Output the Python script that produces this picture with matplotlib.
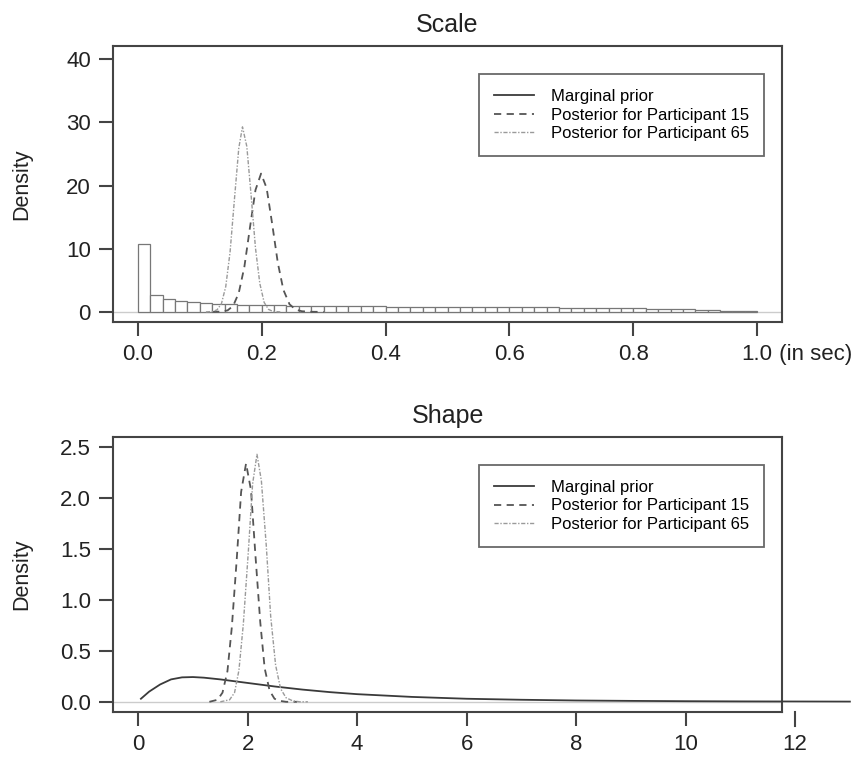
import matplotlib
matplotlib.use('Agg')
import matplotlib.pyplot as plt

plt.rcParams['font.family'] = ['Liberation Sans', 'DejaVu Sans']

# ---- Scale panel data ----
bin_edges = [i * 0.02 for i in range(51)]
prior_scale = [10.8, 2.7, 2.05, 1.75, 1.55, 1.4, 1.3, 1.2, 1.15, 1.1,
               1.05, 1.02, 1.0, 0.98, 0.95, 0.93, 0.92, 0.9, 0.88, 0.87,
               0.85, 0.84, 0.83, 0.82, 0.8, 0.79, 0.78, 0.77, 0.76, 0.75,
               0.74, 0.72, 0.71, 0.7, 0.68, 0.66, 0.64, 0.62, 0.6, 0.57,
               0.54, 0.5, 0.46, 0.42, 0.38, 0.33, 0.27, 0.21, 0.15, 0.08]

p15_scale_x = [0.12, 0.135, 0.145, 0.154, 0.163, 0.172, 0.181, 0.19, 0.199,
               0.208, 0.217, 0.226, 0.235, 0.245, 0.255, 0.265, 0.28, 0.30]
p15_scale_y = [0.0, 0.05, 0.24, 0.96, 3.0, 7.1, 13.3, 19.3, 21.9,
               19.6, 13.9, 7.8, 3.5, 1.2, 0.35, 0.1, 0.02, 0.0]

p65_scale_x = [0.11, 0.121, 0.128, 0.135, 0.142, 0.149, 0.156, 0.163, 0.169,
               0.176, 0.183, 0.190, 0.197, 0.204, 0.211, 0.218, 0.23]
p65_scale_y = [0.0, 0.06, 0.33, 1.29, 4.0, 9.5, 17.8, 25.9, 29.3,
               26.2, 18.4, 10.1, 4.5, 1.5, 0.4, 0.08, 0.0]

# ---- Shape panel data ----
prior_shape_x = [0.05, 0.2, 0.4, 0.6, 0.8, 1.0, 1.2, 1.5, 2.0, 2.5, 3.0, 3.5,
                 4.0, 5.0, 6.0, 7.0, 8.0, 9.0, 10.0, 11.0, 12.0, 13.0]
prior_shape_y = [0.03, 0.1, 0.17, 0.22, 0.24, 0.243, 0.237, 0.22, 0.185, 0.15,
                 0.12, 0.095, 0.075, 0.048, 0.03, 0.02, 0.013, 0.009, 0.006,
                 0.004, 0.003, 0.002]

p15_shape_x = [1.3, 1.45, 1.54, 1.63, 1.71, 1.80, 1.88, 1.97, 2.06, 2.14,
               2.23, 2.31, 2.40, 2.49, 2.58, 2.7, 2.9]
p15_shape_y = [0.0, 0.02, 0.09, 0.3, 0.73, 1.4, 2.06, 2.34, 2.08, 1.45,
               0.78, 0.33, 0.11, 0.03, 0.01, 0.0, 0.0]

p65_shape_x = [1.5, 1.67, 1.76, 1.84, 1.92, 2.01, 2.09, 2.17, 2.25, 2.34,
               2.42, 2.51, 2.60, 2.70, 2.82, 2.95, 3.1]
p65_shape_y = [0.0, 0.02, 0.09, 0.31, 0.76, 1.46, 2.14, 2.43, 2.17, 1.53,
               0.84, 0.36, 0.13, 0.04, 0.01, 0.0, 0.0]

legend_labels = ['Marginal prior', 'Posterior for Participant 15',
                 'Posterior for Participant 65']

c_prior = '#3a3a3a'
c_p15 = '#555555'
c_p65 = '#9a9a9a'
c_box = '#444444'
c_txt = '#222222'
TICK_FS = 16

fig = plt.figure(figsize=(8.64, 7.58), dpi=100)
ax1 = fig.add_axes([0.1308, 0.5752, 0.7743, 0.3641])
ax2 = fig.add_axes([0.1308, 0.0607, 0.7743, 0.3628])


def style(ax):
    for s in ax.spines.values():
        s.set_color(c_box)
        s.set_linewidth(1.5)
    ax.tick_params(direction='out', length=10, width=1.5, color=c_box,
                   labelsize=TICK_FS, pad=6, labelcolor=c_txt)
    ax.set_ylabel('Density', fontsize=15.5, color=c_txt)
    ax.yaxis.set_label_coords(-0.12, 0.5)


# top panel
widths = [bin_edges[i + 1] - bin_edges[i] for i in range(50)]
ax1.bar(bin_edges[:-1], prior_scale, width=widths, align='edge',
        color='white', edgecolor='#777777', linewidth=0.9, zorder=2)
ax1.axhline(0, color='#cccccc', lw=1, zorder=1)
ax1.plot(p15_scale_x, p15_scale_y, color=c_p15, lw=1.3, dashes=(4, 3), zorder=3)
ax1.plot(p65_scale_x, p65_scale_y, color=c_p65, lw=1.0,
         dashes=(3, 1.2, 1, 1.2), zorder=3)
ax1.set_xlim(-0.04, 1.04)
ax1.set_ylim(-1.6, 42.1)
ax1.set_xticks([0.0, 0.2, 0.4, 0.6, 0.8, 1.0])
ax1.set_xticklabels(['0.0', '0.2', '0.4', '0.6', '0.8', '1.0'])
ax1.set_yticks([0, 10, 20, 30, 40])
ax1.set_title('Scale', fontsize=18, pad=10, color=c_txt)
style(ax1)
ax1.annotate(' (in sec)', xy=(1.0, 0), xycoords=('data', 'axes fraction'),
             xytext=(11.1, -16), textcoords='offset points',
             ha='left', va='top', fontsize=TICK_FS, color=c_txt,
             annotation_clip=False)

h = [plt.Line2D([], [], color=c_prior, lw=1.3),
     plt.Line2D([], [], color=c_p15, lw=1.3, dashes=(4, 3)),
     plt.Line2D([], [], color=c_p65, lw=1.0, dashes=(3, 1.2, 1, 1.2))]

for ax in (ax1, ax2):
    leg = ax.legend(h, legend_labels, loc='upper right',
                    bbox_to_anchor=(0.985, 0.928), fontsize=12,
                    frameon=True, fancybox=False, handlelength=2.4,
                    borderpad=0.9, labelspacing=0.2, handletextpad=1.0)
    leg.get_frame().set_edgecolor(c_box)
    leg.get_frame().set_linewidth(1.3)

# bottom panel
ax2.axhline(0, color='#cccccc', lw=1, zorder=1)
ax2.plot(prior_shape_x, prior_shape_y, color=c_prior, lw=1.3, clip_on=False,
         zorder=3)
ax2.plot(p15_shape_x, p15_shape_y, color=c_p15, lw=1.3, dashes=(4, 3), zorder=3)
ax2.plot(p65_shape_x, p65_shape_y, color=c_p65, lw=1.0,
         dashes=(3, 1.2, 1, 1.2), zorder=3)
ax2.set_xlim(-0.46, 11.76)
ax2.set_ylim(-0.1, 2.6)
ax2.set_xticks([0, 2, 4, 6, 8, 10])
ax2.set_yticks([0.0, 0.5, 1.0, 1.5, 2.0, 2.5])
ax2.set_yticklabels(['0.0', '0.5', '1.0', '1.5', '2.0', '2.5'])
ax2.set_title('Shape', fontsize=18, pad=10, color=c_txt)
style(ax2)
# the 12 tick lies just past the box edge
tr = ax2.get_xaxis_transform()
ax2.plot([12, 12], [0, -10 * 100 / 72 / (0.3628 * 758)], transform=tr,
         color=c_box, lw=1.5, clip_on=False)
ax2.annotate('12', xy=(12, 0), xycoords=tr, xytext=(0, -16),
             textcoords='offset points', ha='center', va='top',
             fontsize=TICK_FS, color=c_txt, annotation_clip=False)

fig.savefig('out.png', dpi=100)
